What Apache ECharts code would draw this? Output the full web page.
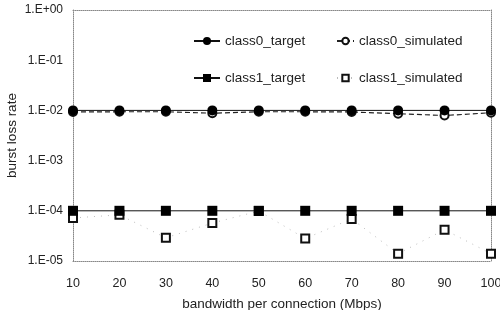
<!DOCTYPE html>
<html>
<head>
<meta charset="utf-8">
<script src="https://cdn.jsdelivr.net/npm/echarts@6/dist/echarts.min.js"></script>
<style>
	* { margin: 0; padding: 0; }
	body { background: #fff; }
	#chart { width: 500px; height: 310px; }
</style>
</head>
<body>
<div id="chart"></div>
<script>
	var bandwidth = [10, 20, 30, 40, 50, 60, 70, 80, 90, 100];
	var class0Target = [1e-2, 1e-2, 1e-2, 1e-2, 1e-2, 1e-2, 1e-2, 1e-2, 1e-2, 1e-2];
	var class0Simulated = [9.3e-3, 9.4e-3, 9.4e-3, 8.8e-3, 9.4e-3, 9.4e-3, 9.3e-3, 8.6e-3, 7.9e-3, 9.0e-3];
	var class1Target = [1e-4, 1e-4, 1e-4, 1e-4, 1e-4, 1e-4, 1e-4, 1e-4, 1e-4, 1e-4];
	var class1Simulated = [7.2e-5, 8.3e-5, 2.9e-5, 5.7e-5, 9.9e-5, 2.8e-5, 6.9e-5, 1.4e-5, 4.2e-5, 1.4e-5];

	function pairs(ys) {
		return bandwidth.map(function (x, i) { return [x, ys[i]]; });
	}

	// 1.E-02 style labels
	function expLabel(v) {
		var e = Math.round(Math.log10(v));
		var s = e < 0 ? '-' : '+';
		var a = Math.abs(e);
		return '1.E' + s + (a < 10 ? '0' : '') + a;
	}

	var frame = { show: true, lineStyle: { color: '#888', type: 'dotted', width: 1 } };
	var font = 'Liberation Sans, Arial';
	var legendTxt = { color: '#222', fontFamily: font, fontSize: 13.5 };
	var nameTxt = { color: '#222', fontFamily: font, fontSize: 13.5 };

	var chart = echarts.init(document.getElementById('chart'));
	chart.setOption({
		animation: false,
		grid: { left: 73, right: 9, top: 10, bottom: 49, outerBoundsMode: 'none', containLabel: false },
		legend: [{
			left: 193, top: 34, orient: 'vertical', itemGap: 23, padding: 0,
			itemWidth: 26, itemHeight: 10,
			textStyle: legendTxt,
			data: ['class0_target', 'class1_target']
		}, {
			left: 336, top: 34, orient: 'vertical', itemGap: 23, padding: 0,
			itemWidth: 17, itemHeight: 8,
			textStyle: legendTxt,
			data: ['class0_simulated', 'class1_simulated']
		}],
		xAxis: [{
			type: 'value', min: 10, max: 100, interval: 10,
			name: 'bandwidth per connection (Mbps)', nameLocation: 'middle', nameGap: 36,
			nameMoveOverlap: false,
			nameTextStyle: nameTxt,
			axisLine: frame, axisTick: { show: false }, splitLine: { show: false },
			axisLabel: { color: '#222', fontSize: 12.5, margin: 16, fontFamily: font }
		}, {
			type: 'value', min: 10, max: 100, position: 'top',
			axisLine: frame, axisTick: { show: false }, axisLabel: { show: false }, splitLine: { show: false }
		}],
		yAxis: [{
			type: 'log', logBase: 10, min: 1e-5, max: 1,
			name: 'burst loss rate', nameLocation: 'middle', nameGap: 54,
			nameMoveOverlap: false,
			nameTextStyle: nameTxt,
			axisLine: frame, axisTick: { show: false }, splitLine: { show: false },
			axisLabel: { color: '#222', fontSize: 12, margin: 10, fontFamily: font, formatter: expLabel }
		}, {
			type: 'log', logBase: 10, min: 1e-5, max: 1, position: 'right',
			axisLine: frame, axisTick: { show: false }, axisLabel: { show: false }, splitLine: { show: false }
		}],
		series: [{
			name: 'class0_simulated', type: 'line', data: pairs(class0Simulated),
			symbol: 'emptyCircle', symbolSize: 8, z: 1,
			lineStyle: { color: '#222', width: 1.2, type: [5, 3] },
			itemStyle: { color: '#111', borderWidth: 1.5 }
		}, {
			name: 'class0_target', type: 'line', data: pairs(class0Target),
			symbol: 'circle', symbolSize: 10, z: 3,
			lineStyle: { color: '#111', width: 1 },
			itemStyle: { color: '#000' }
		}, {
			name: 'class1_simulated', type: 'line', data: pairs(class1Simulated),
			symbol: 'emptyRect', symbolSize: 8, z: 1,
			lineStyle: { color: '#bbb', width: 1, type: [1, 6] },
			itemStyle: { color: '#111', borderWidth: 1.5 }
		}, {
			name: 'class1_target', type: 'line', data: pairs(class1Target),
			symbol: 'rect', symbolSize: 10, z: 3,
			lineStyle: { color: '#111', width: 1 },
			itemStyle: { color: '#000' }
		}]
	});
</script>
</body>
</html>
